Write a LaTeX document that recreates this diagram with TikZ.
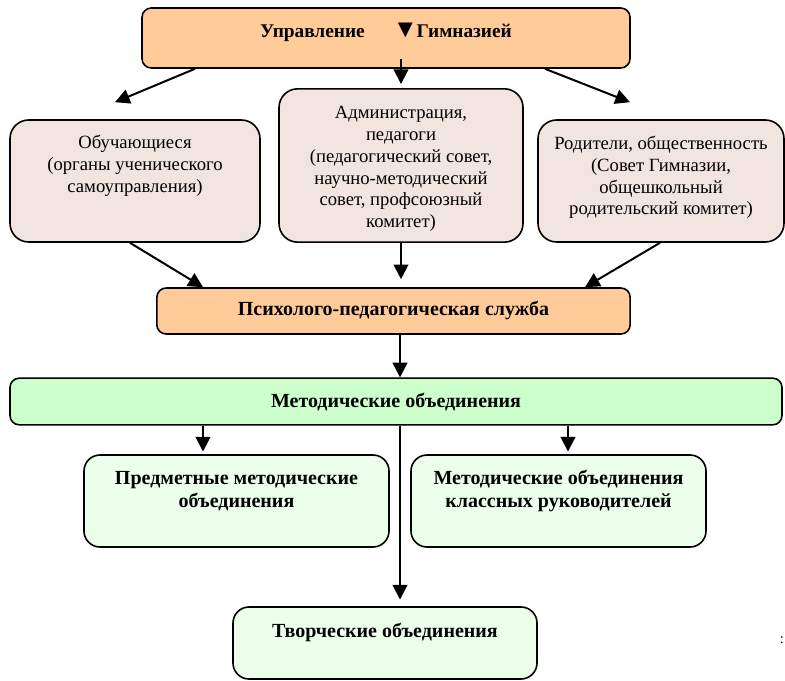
\documentclass[tikz,border=0pt]{standalone}
\usepackage{fontspec}
\setmainfont{Liberation Serif}
\usetikzlibrary{arrows.meta,positioning,calc}

\definecolor{peach}{HTML}{FFCC99}
\definecolor{rose}{HTML}{F2E4DF}
\definecolor{mint}{HTML}{CCFFCC}
\definecolor{palemint}{HTML}{EBFFEB}

\begin{document}
\begin{tikzpicture}[
  x=0.75pt, y=-0.75pt,
  font=\fontsize{14}{16.3}\selectfont,
  box/.style={draw, line width=1.2pt, rectangle, inner sep=0pt},
  head/.style={box, fill=peach, rounded corners=7pt},
  party/.style={box, fill=rose, rounded corners=14pt},
  metod/.style={box, fill=mint, rounded corners=7pt},
  unit/.style={box, fill=palemint, rounded corners=12pt},
  txt/.style={align=center, inner sep=0pt},
  btxt/.style={txt, font=\fontsize{15}{17.5}\selectfont\bfseries},
  arr/.style={-{Triangle[length=11pt, width=11pt]}, line width=1.5pt}
]
\useasboundingbox (0,0) rectangle (785,681);

% upper level
\node[head, minimum width=366pt, minimum height=45pt] (top) at (386,38) {};
\node[btxt, font=\fontsize{14.5}{17}\selectfont\bfseries] (top-t) at (386,32)
  {Управление\hspace{1.45em}{\fontsize{19}{19}\selectfont▼}\kern-1pt Гимназией};

\node[party, minimum width=187.5pt, minimum height=91.5pt] (obuch) at (135,181) {};
\node[txt] (obuch-t) at (135,166) {Обучающиеся\\(органы ученического\\самоуправления)};

\node[party, minimum width=183pt, minimum height=115pt] (admin) at (401,165.5) {};
\node[txt] (admin-t) at (401,169) {Администрация,\\педагоги\\(педагогический совет,\\научно-методический\\совет, профсоюзный\\комитет)};

\node[party, minimum width=184.5pt, minimum height=91.5pt] (parents) at (661,181) {};
\node[txt] (parents-t) at (661,177.5) {Родители, общественность\\(Совет Гимназии,\\общешкольный\\родительский комитет)};

\node[head, minimum width=355pt, minimum height=34.5pt] (psych) at (393.5,311) {};
\node[btxt] (psych-t) at (393.5,310) {Психолого-педагогическая служба};

% lower level
\node[metod, minimum width=579pt, minimum height=35pt] (metod) at (396,401.5) {};
\node[btxt] (metod-t) at (396,402) {Методические объединения};

\node[unit, minimum width=228.75pt, minimum height=69pt] (predmet) at (236.5,501) {};
\node[btxt] (predmet-t) at (236.5,491) {Предметные методические\\объединения};

\node[unit, minimum width=221.25pt, minimum height=69pt] (klass) at (558.5,501) {};
\node[btxt] (klass-t) at (558.5,491) {Методические объединения\\классных руководителей};

\node[unit, minimum width=228pt, minimum height=54pt] (tvorch) at (385,643) {};
\node[btxt] (tvorch-t) at (385,632) {Творческие объединения};

\node[txt, font=\fontsize{11}{12}\selectfont] (colon) at (782,640) {:};

% arrows
\draw[arr] (top.south -| 195,0) -- ([shift={(-20,-17)}]obuch.north);
\draw[arr] ([yshift=7.5pt]top.south -| admin.north) -- ([yshift=3pt]admin.north);
\draw[arr] (top.south -| 545,0) -- ([shift={(-31,-17)}]parents.north);
\draw[arr] (obuch.south -| 130,0) -- (psych.north -| 203,0);
\draw[arr] (admin.south) -- ([yshift=6pt]psych.north -| admin.south);
\draw[arr] (parents.south -| 660,0) -- (psych.north -| 585,0);
\draw[arr] (psych.south -| 400,0) -- (metod.north -| 400,0);
\draw[arr] (metod.south -| 203,0) -- ([yshift=2pt]predmet.north -| 203,0);
\draw[arr] (metod.south -| 568,0) -- ([yshift=2pt]klass.north -| 568,0);
\draw[arr] (metod.south -| 400,0) -- ([yshift=5pt]tvorch.north -| 400,0);
\end{tikzpicture}
\end{document}
